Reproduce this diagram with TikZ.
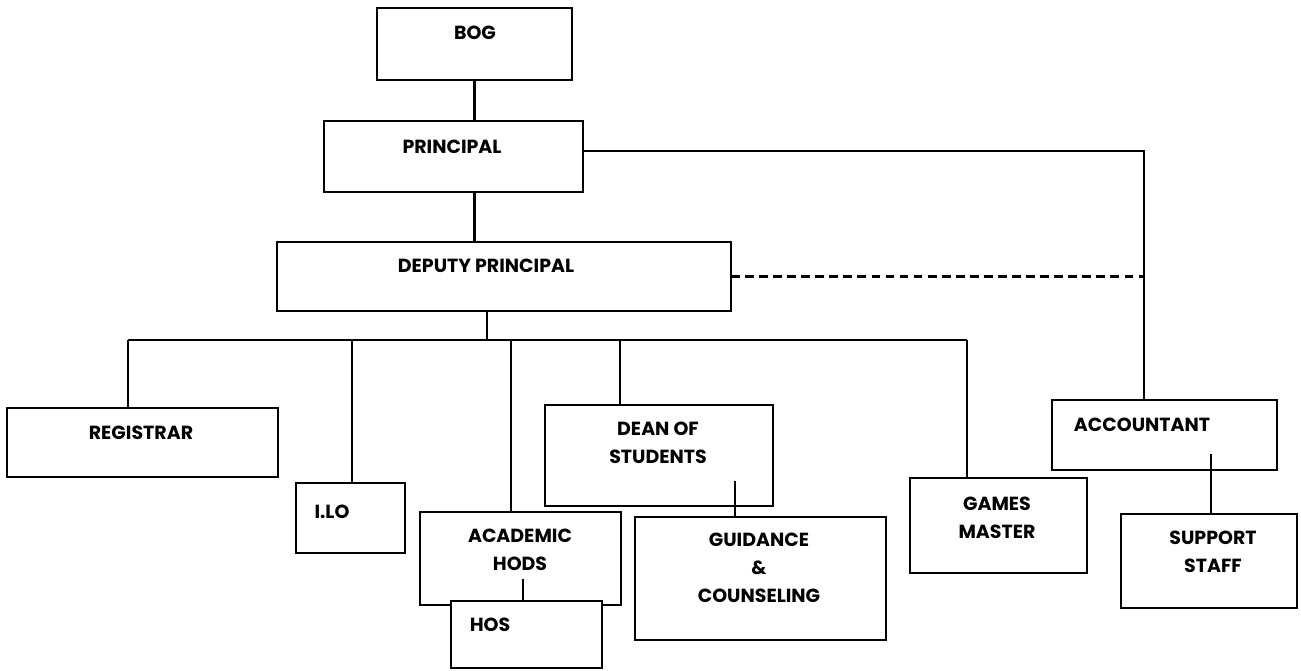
\documentclass[tikz,border=0pt]{standalone}
\usepackage{fontspec}
\setmainfont{Poppins}
\begin{document}
\begin{tikzpicture}[x=0.02cm, y=-0.02cm, line width=1.4pt,
      box/.style = {draw, fill=white, rectangle, inner sep=0pt, outer sep=0pt},
      lbl/.style = {font=\bfseries\fontsize{10.8}{16}\selectfont, align=center, inner sep=0pt}]
    \useasboundingbox (0,0) rectangle (1301,670);

    % boxes
    \node[box, minimum width=3.9cm, minimum height=1.44cm] (bog) at (474.5,44) {};
    \node[box, minimum width=5.18cm, minimum height=1.42cm] (principal) at (453.5,156.5) {};
    \node[box, minimum width=9.08cm, minimum height=1.38cm] (deputy) at (504,276.5) {};
    \node[box, minimum width=5.42cm, minimum height=1.38cm] (registrar) at (142.5,442.5) {};
    \node[box, minimum width=2.18cm, minimum height=1.40cm] (ilo) at (350.5,518) {};
    \node[box, minimum width=4.02cm, minimum height=1.86cm] (academic) at (520.5,558.5) {};
    \node[box, minimum width=3.02cm, minimum height=1.34cm] (hos) at (526.5,634.5) {};
    \node[box, minimum width=4.56cm, minimum height=2.02cm] (dean) at (659,455.5) {};
    \node[box, minimum width=5.02cm, minimum height=2.46cm] (guidance) at (760.5,578.5) {};
    \node[box, minimum width=3.54cm, minimum height=1.90cm] (games) at (998.5,525.5) {};
    \node[box, minimum width=4.5cm, minimum height=1.40cm] (accountant) at (1164.5,435) {};
    \node[box, minimum width=3.52cm, minimum height=1.88cm] (support) at (1209,561) {};

    % labels
    \node[lbl] (bogl) at (475,33) {BOG};
    \node[lbl] (principall) at (452,147) {PRINCIPAL};
    \node[lbl] (deputyl) at (486,266) {DEPUTY PRINCIPAL};
    \node[lbl] (registrarl) at (141,433) {REGISTRAR};
    \node[lbl] (ilol) at (332,512) {I.LO};
    \node[lbl] (academicl) at (520,549.5) {ACADEMIC\\HODS};
    \node[lbl] (hosl) at (490,625) {HOS};
    \node[lbl] (deanl) at (658,442.5) {DEAN OF\\STUDENTS};
    \node[lbl] (guidancel) at (759,568) {GUIDANCE\\\&\\COUNSELING};
    \node[lbl] (gamesl) at (997,517.5) {GAMES\\MASTER};
    \node[lbl] (accountantl) at (1142,425) {ACCOUNTANT};
    \node[lbl] (supportl) at (1213,552) {SUPPORT\\STAFF};

    % bends and drop points
    \coordinate (pr) at (1144,151);
    \coordinate (bus) at (487,340);
    \coordinate (dreg) at (128,340);
    \coordinate (dilo) at (352,340);
    \coordinate (dacad) at (511,340);
    \coordinate (ddean) at (620,340);
    \coordinate (dgames) at (967,340);
    \coordinate (dg) at (735,481);
    \coordinate (ah) at (523,579);
    \coordinate (as) at (1211,454);

    % connectors
    \draw (bog.south) -- (bog.south |- principal.north);
    \draw (principal.south -| bog.south) -- (deputy.north -| bog.south);
    \draw (principal.east |- pr) -- (pr) -- (pr |- accountant.north);
    \draw[dash pattern=on 5pt off 3pt] (deputy.east) -- (deputy.east -| pr);
    \draw (deputy.south -| bus) -- (bus);
    \draw (dreg) -- (dgames);
    \draw (dreg) -- (dreg |- registrar.north);
    \draw (dilo) -- (dilo |- ilo.north);
    \draw (dacad) -- (dacad |- academic.north);
    \draw (ddean) -- (ddean |- dean.north);
    \draw (dgames) -- (dgames |- games.north);
    \draw (dg) -- (dg |- guidance.north);
    \draw (ah) -- (ah |- hos.north);
    \draw (as) -- (as |- support.north);
\end{tikzpicture}
\end{document}
